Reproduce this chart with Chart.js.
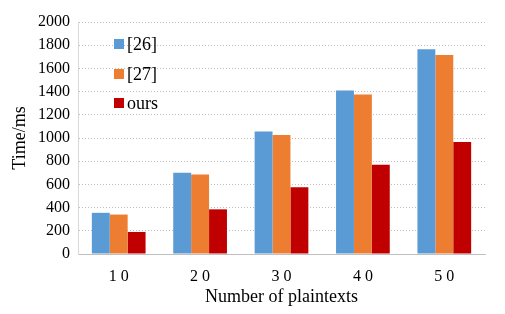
<!DOCTYPE html>
<html>
<head>
<meta charset="utf-8">
<script src="https://cdn.jsdelivr.net/npm/chart.js@4"></script>
<style>
  body { margin: 0; background: #fff; }
  #wrap { width: 505px; height: 314px; }
</style>
</head>
<body>
<div id="wrap"><canvas id="chart"></canvas></div>
<script>
const categories = ["1 0", "2 0", "3 0", "4 0", "5 0"];
const ref26 = [355, 700, 1055, 1410, 1765];
const ref27 = [340, 685, 1025, 1375, 1715];
const ours = [190, 385, 575, 770, 965];
const yTicks = [0, 200, 400, 600, 800, 1000, 1200, 1400, 1600, 1800, 2000];

const serif = "'Liberation Serif', 'Times New Roman', serif";

// legend drawn inside the plot, top left
const innerLegend = {
  id: "innerLegend",
  afterDraw(chart) {
    const ctx = chart.ctx;
    const x = chart.chartArea.left + 36;
    const rows = [44, 74, 103];
    chart.data.datasets.forEach((ds, i) => {
      ctx.fillStyle = ds.backgroundColor;
      ctx.fillRect(x, rows[i] - 5, 10, 10);
      ctx.fillStyle = "#000";
      ctx.font = "18px " + serif;
      ctx.textBaseline = "middle";
      ctx.fillText(ds.label, x + 13, rows[i] + 1);
    });
  }
};

new Chart(document.getElementById("chart"), {
  type: "bar",
  data: {
    labels: categories,
    datasets: [
      { label: "[26]", data: ref26, backgroundColor: "#5B9BD5" },
      { label: "[27]", data: ref27, backgroundColor: "#ED7D31" },
      { label: "ours", data: ours, backgroundColor: "#C00000" },
    ],
  },
  options: {
    responsive: true,
    maintainAspectRatio: false,
    animation: false,
    layout: { padding: { top: 22, right: 20, left: 0, bottom: 4 } },
    datasets: { bar: { categoryPercentage: 0.66, barPercentage: 1 } },
    plugins: { legend: { display: false }, tooltip: { enabled: false } },
    scales: {
      x: {
        afterFit: (s) => { s.height = 56; },
        grid: { display: false, drawTicks: false },
        border: { color: "#BFBFBF", width: 1 },
        ticks: { color: "#000", font: { family: serif, size: 16 }, padding: 13 },
        title: {
          display: true,
          text: "Number of plaintexts",
          color: "#000",
          font: { family: serif, size: 18 },
          padding: { top: 0, bottom: 2 },
        },
      },
      y: {
        min: 0,
        max: 2000,
        afterBuildTicks: (s) => { s.ticks = yTicks.map((v) => ({ value: v })); },
        afterFit: (s) => { s.width = 78; },
        grid: { color: "#BDBDBD", drawTicks: false },
        border: { color: "#D9D9D9", dash: [1, 2], width: 1 },
        ticks: {
          color: "#000",
          font: { family: serif, size: 16 },
          padding: 8,
          callback: (v) => String(v),
        },
        title: {
          display: true,
          text: "Time/ms",
          color: "#000",
          font: { family: serif, size: 18 },
          padding: { top: 9, bottom: 0 },
        },
      },
    },
  },
  plugins: [innerLegend],
});
</script>
</body>
</html>
